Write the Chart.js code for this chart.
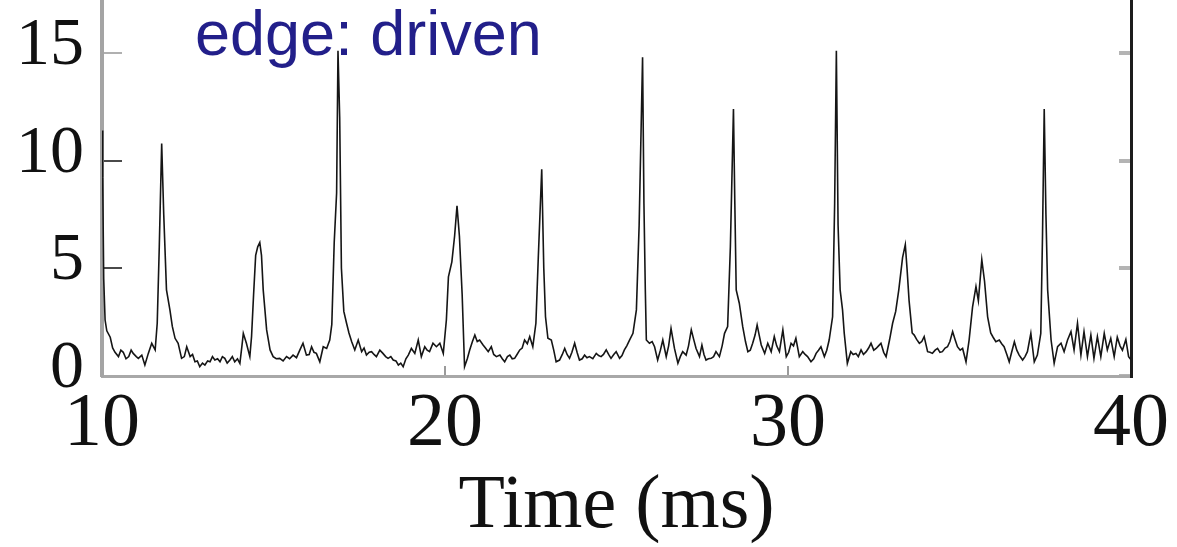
<!DOCTYPE html>
<html>
<head>
<meta charset="utf-8">
<script src="https://cdn.jsdelivr.net/npm/chart.js@4/dist/chart.umd.min.js"></script>
<style>
  html, body { margin: 0; padding: 0; background: #fff; }
  #wrap { position: relative; width: 1177px; height: 547px; }
  #note {
    position: absolute; left: 195px; top: 2px;
    font-family: "Liberation Sans", Arial, sans-serif;
    font-size: 63px; line-height: 63px; color: #221f8a;
    white-space: nowrap;
  }
</style>
</head>
<body>
<div id="wrap">
  <canvas id="chart" width="1177" height="547"></canvas>
  <div id="note">edge: driven</div>
</div>
<script>
// time axis (ms) and trace values
const times = [
  10.00, 10.02, 10.05, 10.09, 10.14, 10.24, 10.31, 10.38, 10.48, 10.55, 10.62, 10.70, 10.78, 10.85, 10.91,
  11.00, 11.06, 11.16, 11.25, 11.35, 11.45, 11.55, 11.61, 11.67, 11.74, 11.80, 11.88, 11.98,
  12.05, 12.13, 12.22, 12.32, 12.40, 12.47, 12.57, 12.64, 12.71, 12.78, 12.85, 12.93,
  13.00, 13.08, 13.15, 13.22, 13.29, 13.37, 13.44, 13.51, 13.58, 13.65, 13.73, 13.80, 13.87, 13.95,
  14.02, 14.08, 14.12, 14.21, 14.31, 14.36, 14.42, 14.48, 14.54, 14.60, 14.65, 14.70, 14.80, 14.90, 14.99,
  15.08, 15.18, 15.28, 15.38, 15.47, 15.57, 15.67, 15.77, 15.86, 15.96,
  16.04, 16.11, 16.18, 16.25, 16.35, 16.45, 16.55, 16.64, 16.70, 16.77, 16.84, 16.88, 16.93, 16.98,
  17.05, 17.13, 17.20, 17.28, 17.37, 17.47, 17.57, 17.64, 17.71, 17.79, 17.86, 17.93,
  18.00, 18.10, 18.19, 18.27, 18.34, 18.42, 18.49, 18.57, 18.64, 18.71, 18.78, 18.86, 18.93,
  19.02, 19.12, 19.22, 19.31, 19.41, 19.48, 19.55, 19.65, 19.75, 19.85, 19.95,
  20.04, 20.10, 20.20, 20.28, 20.35, 20.42, 20.50, 20.57, 20.65, 20.72, 20.80, 20.87, 20.94,
  21.01, 21.11, 21.18, 21.26, 21.35, 21.42, 21.50, 21.60, 21.67, 21.74, 21.82, 21.89, 21.96,
  22.03, 22.10, 22.18, 22.25, 22.32, 22.40, 22.47, 22.56, 22.65, 22.72, 22.82, 22.88, 22.93,
  23.00, 23.10, 23.17, 23.24, 23.34, 23.42, 23.49, 23.56, 23.63, 23.70, 23.78, 23.85, 23.92,
  24.00, 24.07, 24.14, 24.21, 24.31, 24.41, 24.48, 24.55, 24.62, 24.70, 24.77, 24.84, 24.92, 24.99,
  25.09, 25.16, 25.23, 25.30, 25.38, 25.48, 25.58, 25.66, 25.76, 25.80, 25.84, 25.87, 25.96,
  26.04, 26.11, 26.20, 26.28, 26.35, 26.45, 26.52, 26.59, 26.69, 26.79, 26.86, 26.93,
  27.03, 27.10, 27.18, 27.25, 27.32, 27.42, 27.49, 27.55, 27.61, 27.68, 27.76, 27.83, 27.90,
  28.00, 28.08, 28.15, 28.24, 28.32, 28.41, 28.45, 28.49, 28.58, 28.68, 28.76, 28.83, 28.90, 28.97,
  29.04, 29.10, 29.16, 29.22, 29.32, 29.41, 29.51, 29.60, 29.67, 29.75, 29.85, 29.95,
  30.02, 30.09, 30.16, 30.23, 30.33, 30.43, 30.50, 30.57, 30.67, 30.75, 30.82, 30.89, 30.96,
  31.06, 31.13, 31.20, 31.30, 31.36, 31.41, 31.46, 31.52, 31.59, 31.64, 31.73, 31.83, 31.90, 31.98,
  32.05, 32.13, 32.20, 32.28, 32.35, 32.42, 32.50, 32.57, 32.64, 32.71, 32.79, 32.86, 32.96,
  33.05, 33.14, 33.23, 33.34, 33.42, 33.47, 33.53, 33.62, 33.68, 33.75, 33.83, 33.90, 33.97,
  34.07, 34.14, 34.21, 34.29, 34.36, 34.43, 34.50, 34.58, 34.65, 34.72, 34.80, 34.87, 34.94,
  35.02, 35.09, 35.19, 35.28, 35.38, 35.48, 35.55, 35.65, 35.73, 35.82, 35.91, 35.98,
  36.06, 36.16, 36.23, 36.30, 36.38, 36.45, 36.52, 36.60, 36.67, 36.74, 36.84, 36.91, 36.98,
  37.08, 37.18, 37.27, 37.37, 37.42, 37.47, 37.52, 37.57, 37.67, 37.76, 37.86, 37.96,
  38.05, 38.15, 38.25, 38.34, 38.44, 38.54, 38.63, 38.73, 38.83, 38.92,
  39.02, 39.12, 39.22, 39.31, 39.41, 39.51, 39.60, 39.68, 39.75, 39.85, 39.93, 40.00
];
const rate = [
  11.4, 9.2, 4.5, 2.6, 2.1, 1.8, 1.3, 1.1, 0.9, 1.2, 1.1, 0.8, 0.9, 1.2, 1.05,
  0.9, 0.82, 0.97, 0.51, 1.05, 1.52, 1.21, 2.45, 6.0, 10.8, 7.5, 4.0, 3.07,
  2.3, 1.75, 1.52, 0.82, 0.9, 1.36, 0.9, 1.0, 0.66, 0.7, 0.43, 0.6,
  0.51, 0.7, 0.66, 0.9, 0.74, 0.8, 0.66, 0.9, 0.82, 0.6, 0.74, 0.9, 0.66, 0.8,
  0.59, 1.4, 1.98, 1.52, 0.9, 1.83, 3.8, 5.6, 6.0, 6.2, 5.6, 4.0, 2.14, 1.21, 0.9,
  0.8, 0.82, 0.7, 0.9, 0.8, 0.97, 0.85, 1.21, 1.52, 0.97,
  1.0, 1.36, 1.1, 1.05, 0.66, 1.36, 1.28, 1.67, 2.4, 6.2, 8.5, 15.1, 12.0, 5.0,
  3.0, 2.45, 2.0, 1.59, 1.21, 1.67, 1.13, 1.3, 0.97, 1.1, 1.13, 1.0,
  0.9, 1.2, 1.05, 0.9, 0.82, 0.9, 0.74, 0.7, 0.51, 0.6, 0.43, 0.8, 0.97,
  1.28, 1.05, 1.67, 0.9, 1.36, 1.2, 1.13, 1.52, 1.36, 1.52, 1.05,
  2.6, 4.6, 5.3, 6.5, 7.9, 6.5, 3.8, 0.43, 0.8, 1.21, 1.6, 1.9, 1.6,
  1.67, 1.44, 1.3, 1.13, 1.36, 1.0, 0.9, 0.97, 0.8, 0.66, 0.9, 0.97, 0.8,
  0.82, 1.0, 1.21, 1.3, 1.67, 1.5, 1.83, 1.36, 2.45, 5.5, 9.6, 5.0, 2.75,
  1.75, 1.67, 1.2, 0.66, 0.74, 1.0, 1.28, 1.0, 0.82, 1.1, 1.52, 1.1, 0.74,
  0.8, 0.97, 0.85, 0.9, 0.8, 1.05, 0.95, 0.9, 1.0, 1.21, 1.0, 0.82, 1.0, 1.13,
  0.82, 0.95, 1.21, 1.4, 1.67, 1.98, 3.07, 7.0, 14.8, 8.0, 4.0, 1.67, 1.52,
  1.6, 1.36, 0.74, 1.2, 1.67, 0.9, 1.4, 2.21, 1.28, 0.59, 0.9, 1.13,
  0.97, 1.4, 2.14, 1.7, 1.28, 0.9, 1.44, 1.0, 0.74, 0.8, 0.82, 0.9, 1.13,
  0.9, 1.4, 1.98, 2.3, 6.0, 12.4, 8.0, 4.0, 3.38, 2.29, 1.6, 1.13, 1.2, 1.52,
  1.9, 2.37, 1.9, 1.44, 1.05, 1.52, 1.13, 1.83, 1.4, 1.13, 2.14, 0.9,
  1.1, 1.52, 1.4, 1.75, 0.9, 1.13, 1.0, 0.9, 0.66, 0.8, 1.05, 1.2, 1.36,
  0.9, 1.2, 1.67, 2.75, 8.0, 15.1, 7.0, 4.0, 3.07, 1.98, 0.59, 1.13, 1.0, 1.05,
  0.9, 1.21, 1.0, 1.13, 1.3, 1.52, 1.2, 1.28, 1.4, 1.52, 1.1, 0.9, 1.67,
  2.45, 3.0, 4.0, 5.5, 6.1, 5.0, 3.5, 2.0, 1.9, 1.7, 1.52, 1.6, 1.83,
  1.13, 1.1, 1.05, 1.2, 1.28, 1.1, 1.13, 1.3, 1.36, 1.6, 2.06, 1.7, 1.36,
  1.2, 1.28, 0.66, 1.67, 3.2, 4.15, 3.5, 5.4, 4.4, 2.75, 2.0, 1.8,
  1.59, 1.67, 1.5, 1.36, 1.0, 0.66, 1.1, 1.59, 1.2, 0.97, 0.74, 0.9, 1.13,
  1.98, 0.66, 0.97, 1.98, 6.5, 12.4, 7.5, 4.0, 1.67, 0.59, 1.36, 1.52,
  1.13, 1.67, 2.06, 1.21, 2.45, 0.97, 2.06, 0.9, 1.9, 0.82,
  1.83, 0.9, 1.98, 1.21, 1.75, 0.9, 1.8, 1.4, 1.2, 1.7, 0.9, 0.75
];
const xTicks = [10, 20, 30, 40];
const yTicks = [0, 5, 10, 15];
const xTitle = 'Time (ms)';

const serif = '"Liberation Serif", "Times New Roman", serif';

function noPad(scale) {
  scale.paddingTop = 0; scale.paddingBottom = 0;
  scale.paddingLeft = 0; scale.paddingRight = 0;
}

new Chart(document.getElementById('chart'), {
  type: 'line',
  data: {
    datasets: [{
      data: times.map((t, i) => ({ x: t, y: rate[i] })),
      borderColor: '#151515',
      borderWidth: 1.6,
      pointRadius: 0,
      tension: 0,
      fill: false
    }]
  },
  options: {
    responsive: false,
    animation: false,
    layout: { padding: 0 },
    plugins: { legend: { display: false }, tooltip: { enabled: false } },
    scales: {
      x: {
        type: 'linear',
        min: 10, max: 40,
        afterBuildTicks: s => { s.ticks = xTicks.map(v => ({ value: v })); },
        afterFit: s => { s.height = 171; noPad(s); },
        border: { color: '#a8a8a8', width: 3 },
        grid: { drawOnChartArea: false, tickLength: -10, color: '#9a9a9a', lineWidth: 2 },
        ticks: { color: '#111', padding: 21, font: { family: serif, size: 76, lineHeight: 1 } },
        title: {
          display: true, text: xTitle, color: '#111',
          font: { family: serif, size: 76, lineHeight: 1 },
          padding: { top: 0, bottom: 2 }
        }
      },
      y: {
        position: 'left',
        min: 0, max: 17.46,
        afterBuildTicks: s => { s.ticks = yTicks.map(v => ({ value: v })); },
        afterFit: s => { s.width = 102; noPad(s); },
        border: { color: '#a4a4a4', width: 4 },
        grid: {
          drawOnChartArea: false, tickLength: -20, lineWidth: 2,
          color: c => (c.tick && c.tick.value === 15) ? '#b0b0b0' : '#4a4a4a'
        },
        ticks: { color: '#111', padding: 38, labelOffset: -7, font: { family: serif, size: 68, lineHeight: 1 } }
      },
      y2: {
        position: 'right',
        min: 0, max: 17.46,
        afterBuildTicks: s => { s.ticks = yTicks.map(v => ({ value: v })); },
        afterFit: s => { s.width = 46; noPad(s); },
        border: { color: '#1c1c1c', width: 3 },
        grid: { drawOnChartArea: false, tickLength: -12, color: '#b4b4b4', lineWidth: 4 },
        ticks: { display: false }
      }
    }
  }
});
</script>
</body>
</html>
